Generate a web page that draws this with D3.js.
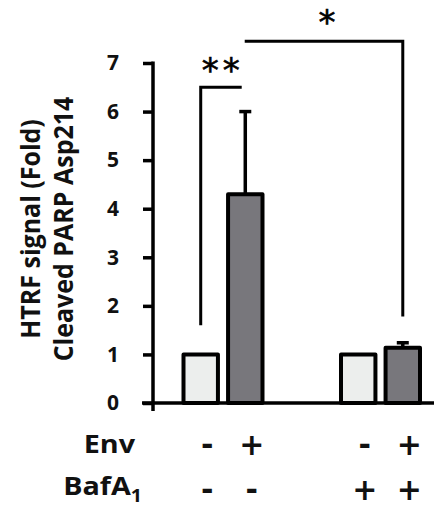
<!DOCTYPE html>
<html><head><meta charset="utf-8">
<script src="https://cdn.jsdelivr.net/npm/d3@7"></script>
<style>body{margin:0;background:#fff}svg{display:block}</style>
</head><body>
<script>
const groups = ["noBaf", "Baf"];
const envLevels = ["-", "+"];
const values = [1.0, 4.3, 1.0, 1.14];
const errors = [0, 1.7, 0, 0.1];
const envLabels = ["-", "+", "-", "+"];
const bafLabels = ["-", "-", "+", "+"];
const yTicks = [0, 1, 2, 3, 4, 5, 6, 7];
const titleLines = ["HTRF signal (Fold)", "Cleaved PARP Asp214"];
const sigLabels = ["**", "*"];

const W = 442, H = 508;
const FONT = "'Open Sans', Carlito, Lato, sans-serif";
const SIGNFONT = "'DejaVu Sans', sans-serif";
const svg = d3.select("body").append("svg").attr("width", W).attr("height", H);

const y = d3.scaleLinear().domain([0, 7]).range([403, 63]);
const xg = d3.scalePoint().domain(groups).range([223, 380.5]);
const xi = d3.scaleBand().domain(envLevels).range([-41, 41]).paddingInner(0.16);
const bars = values.map((v, i) => ({v, e: errors[i], g: groups[Math.floor(i / 2)], env: envLevels[i % 2], i}));
const cx = d => xg(d.g) + xi(d.env) + xi.bandwidth() / 2;

// y axis
const yAxis = d3.axisLeft(y).tickValues(yTicks).tickFormat(d3.format("d")).tickSize(10).tickPadding(24).tickSizeOuter(0);
const ga = svg.append("g").attr("transform", "translate(153,0)").call(yAxis);
ga.select(".domain").remove();
ga.selectAll(".tick line").attr("stroke", "#000").attr("stroke-width", 3.5);
ga.selectAll(".tick text").attr("font-family", FONT).attr("font-weight", "bold").attr("font-size", 21).attr("fill", "#111");
svg.append("line").attr("x1", 153).attr("x2", 153).attr("y1", y(7) - 1.5).attr("y2", y(0) + 8)
  .attr("stroke", "#000").attr("stroke-width", 3.5);

// error bars
const eb = bars.filter(d => d.e > 0);
svg.selectAll(".err").data(eb).join("line")
  .attr("x1", cx).attr("x2", cx).attr("y1", d => y(d.v)).attr("y2", d => y(d.v + d.e))
  .attr("stroke", "#000").attr("stroke-width", 3.5);
svg.selectAll(".cap").data(eb).join("line")
  .attr("x1", d => cx(d) - 6).attr("x2", d => cx(d) + 6).attr("y1", d => y(d.v + d.e)).attr("y2", d => y(d.v + d.e))
  .attr("stroke", "#000").attr("stroke-width", 3.5);

// bars
svg.selectAll(".bar").data(bars).join("rect")
  .attr("x", d => cx(d) - xi.bandwidth() / 2 + 1.5).attr("width", xi.bandwidth() - 3)
  .attr("y", d => y(d.v)).attr("height", d => y(0) - y(d.v))
  .attr("fill", d => d.env === "+" ? "#78777c" : "#eceeed")
  .attr("stroke", "#000").attr("stroke-width", 4).attr("stroke-linejoin", "round");

// baseline on top
svg.append("line").attr("x1", 142).attr("x2", 434).attr("y1", y(0)).attr("y2", y(0))
  .attr("stroke", "#000").attr("stroke-width", 3.5);

// brackets
const b1 = cx(bars[0]), b2 = cx(bars[3]);
svg.append("path").attr("d", `M${b1},${y(1.6)} V${y(6.5)} H${b1 + 41}`)
  .attr("fill", "none").attr("stroke", "#000").attr("stroke-width", 3);
svg.append("path").attr("d", `M${b1 + 44},${y(7.45)} H${b2} V${y(1.78)}`)
  .attr("fill", "none").attr("stroke", "#000").attr("stroke-width", 3);
svg.append("text").text(sigLabels[0]).attr("x", b1 + 22).attr("y", y(6.5) - 24)
  .attr("text-anchor", "middle").attr("font-family", SIGNFONT).attr("font-size", 34)
  .attr("letter-spacing", 4).attr("fill", "#000").attr("stroke", "#000").attr("stroke-width", 0.6).attr("dy", "0.55em");
svg.append("text").text(sigLabels[1]).attr("x", 327).attr("y", 15)
  .attr("text-anchor", "middle").attr("font-family", SIGNFONT).attr("font-size", 34)
  .attr("fill", "#000").attr("stroke", "#000").attr("stroke-width", 0.6).attr("dy", "0.55em");

// axis title
titleLines.forEach((t, k) => {
  svg.append("text").text(t)
    .attr("transform", `translate(${[40, 73][k]},229) scale(1.1,1) rotate(-90)`)
    .attr("text-anchor", "middle").attr("font-family", FONT).attr("font-weight", "bold")
    .attr("font-size", 25).attr("fill", "#111");
});

// condition table
const rowY = [453, 495];
svg.append("text").text("Env").attr("transform", `translate(135,${rowY[0]}) scale(1.15,1)`).attr("text-anchor", "end")
  .attr("font-family", FONT).attr("font-weight", "bold").attr("font-size", 25).attr("fill", "#111");
const baf = svg.append("text").attr("transform", `translate(142,${rowY[1]}) scale(1.15,1)`).attr("text-anchor", "end")
  .attr("font-family", FONT).attr("font-weight", "bold").attr("font-size", 25).attr("fill", "#111");
baf.append("tspan").text("BafA");
baf.append("tspan").text("1").attr("font-size", 17).attr("dy", 7);
const signY = [455, 500];
[envLabels, bafLabels].forEach((row, r) => {
  svg.selectAll(null).data(bars).join("text").text(d => row[d.i])
    .attr("x", d => cx(d) + 6.5).attr("y", signY[r])
    .attr("text-anchor", "middle").attr("font-family", SIGNFONT).attr("font-weight", "bold")
    .attr("font-size", 30).attr("fill", "#111");
});
</script>
</body></html>
